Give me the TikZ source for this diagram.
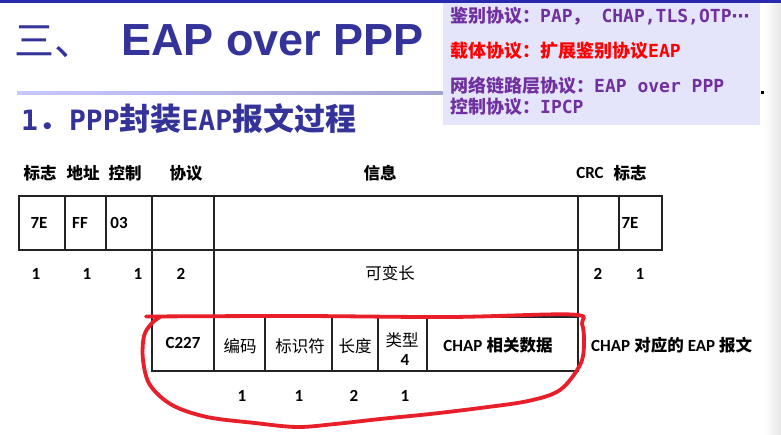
\documentclass[tikz,border=0pt]{standalone}
\usepackage{fontspec}
\setmainfont{Carlito}
\newfontfamily\cjk{Noto Sans CJK SC}
\newfontfamily\mono{DejaVu Sans Mono}
\newfontfamily\dejavu{DejaVu Sans}
\newfontfamily\arialf{Liberation Sans}
\usetikzlibrary{calc}
\definecolor{titleblue}{RGB}{51,51,153}
\definecolor{notepurple}{RGB}{112,48,160}
\definecolor{notebg}{RGB}{228,228,250}
\definecolor{loopred}{RGB}{232,30,40}
\definecolor{framegray}{RGB}{35,35,35}
\newcommand{\fs}[1]{\fontsize{#1}{#1}\selectfont}

\begin{document}
\begin{tikzpicture}[x=1pt,y=-1pt,
  frame/.style={line width=1.3pt,draw=framegray},
  hdr/.style={inner sep=0pt,font=\bfseries\fs{16.5}},
  val/.style={inner sep=0pt,font=\bfseries\fs{17}},
  cell/.style={inner sep=0pt,font=\fs{16.5}},
  note/.style={inner sep=0pt,anchor=west,font=\bfseries\fs{18}}]
\useasboundingbox (0,0) rectangle (781,434);
\fill[white] (0,0) rectangle (781,434);
\shade[left color=white,right color=black!10] (764,3) rectangle (781,434);
\fill[titleblue!80!blue] (0,0) rectangle (781,3);
% title and heading
\node[inner sep=0pt,anchor=base west,text=titleblue,font=\cjk\fs{40}] (num) at (14,55) {三、};
\node[inner sep=0pt,anchor=base west,text=titleblue,font=\arialf\bfseries\fs{45}] (title) at (121,55) {EAP over PPP};
\shade[left color=blue!22,right color=titleblue!45] (17,91.5) rectangle (443,94.5);
\node[inner sep=0pt,anchor=base west,text=titleblue,font=\bfseries\fs{31}] (head) at (21,130)
  {{\mono\fs{28}1}{\cjk ．}{\mono\fs{28}PPP}{\cjk 封装}{\mono\fs{28}EAP}{\cjk 报文过程}};
% note box
\fill[notebg] (443,3) rectangle (760,125);
\fill[black] (761,91) rectangle (763.5,93.5);
\node[note,text=notepurple] (n1) at (450,16) {{\cjk 鉴别协议：}{\mono PAP}{\cjk ，}{\mono\ CHAP,TLS,OTP}{\dejavu ⋯}};
\node[note,text=red] (n2) at (450,51) {{\cjk 载体协议：扩展鉴别协议}{\mono EAP}};
\node[note,text=notepurple] (n3) at (450,86) {{\cjk 网络链路层协议：}{\mono EAP over PPP}};
\node[note,text=notepurple] (n4) at (450,107) {{\cjk 控制协议：}{\mono IPCP}};
% PPP frame
\draw[frame] (19,196) rectangle (662,250);
\foreach \x in {65,106,619} \draw[frame] (\x,196)--(\x,250);
\foreach \x in {152,214,578} \draw[frame] (\x,196)--(\x,317);
\node[hdr] (hflag) at (40,173) {\cjk 标志};
\node[hdr] (haddr) at (83,173) {\cjk 地址};
\node[hdr] (hctrl) at (125,173) {\cjk 控制};
\node[hdr] (hproto) at (186,173) {\cjk 协议};
\node[hdr] (hinfo) at (380,173) {\cjk 信息};
\node[val] (hcrc) at (590,173) {CRC};
\node[hdr] (hflagb) at (630,173) {\cjk 标志};
\node[val] (vflag) at (39,223) {7E};
\node[val] (vaddr) at (80,223) {FF};
\node[val] (vctrl) at (119,223) {03};
\node[val] (vflagb) at (630,223) {7E};
\node[val] (lflag) at (36,274) {1};
\node[val] (laddr) at (87,274) {1};
\node[val] (lctrl) at (138,274) {1};
\node[val] (lproto) at (181,274) {2};
\node[cell] (linfo) at (390,273) {\cjk 可变长};
\node[val] (lcrc) at (598,274) {2};
\node[val] (lflagb) at (640,274) {1};
% EAP packet
\draw[frame] (152,317) rectangle (578,371);
\foreach \x in {214,265,332,378,427} \draw[frame] (\x,317)--(\x,371);
\node[val] (pcode) at (183,343) {C227};
\node[cell] (ecode) at (240,346) {\cjk 编码};
\node[cell] (eid) at (300,346) {\cjk 标识符};
\node[cell] (elen) at (355,346) {\cjk 长度};
\node[cell] (etype) at (402,340) {\cjk 类型};
\node[val] (etypev) at (405,360) {4};
\node[val] (edata) at (498,345) {CHAP\hspace{4pt}{\cjk\fs{16.5}相关数据}};
\node[val,anchor=west] (eapnote) at (591,345) {CHAP\hspace{4pt}{\cjk\fs{16.5}对应的}\hspace{4pt}EAP\hspace{4pt}{\cjk\fs{16.5}报文}};
\node[val] (scode) at (242,396) {1};
\node[val] (sid) at (299,396) {1};
\node[val] (slen) at (354,396) {2};
\node[val] (stype) at (405,396) {1};
% hand-drawn loop
\draw[loopred,line width=3.8pt,line cap=round,line join=round]
  plot[smooth,tension=0.55] coordinates {(146,316.5) (300,316) (450,317) (572,314.5) (582,324) (584,345)
  (580,365) (560,390) (528,401) (480,408) (430,414) (380,419) (335,424) (297,427) (255,423) (207,417)
  (172,405) (150,385) (143,360) (144,336) (152,323) (161,316.5)};
\end{tikzpicture}
\end{document}
